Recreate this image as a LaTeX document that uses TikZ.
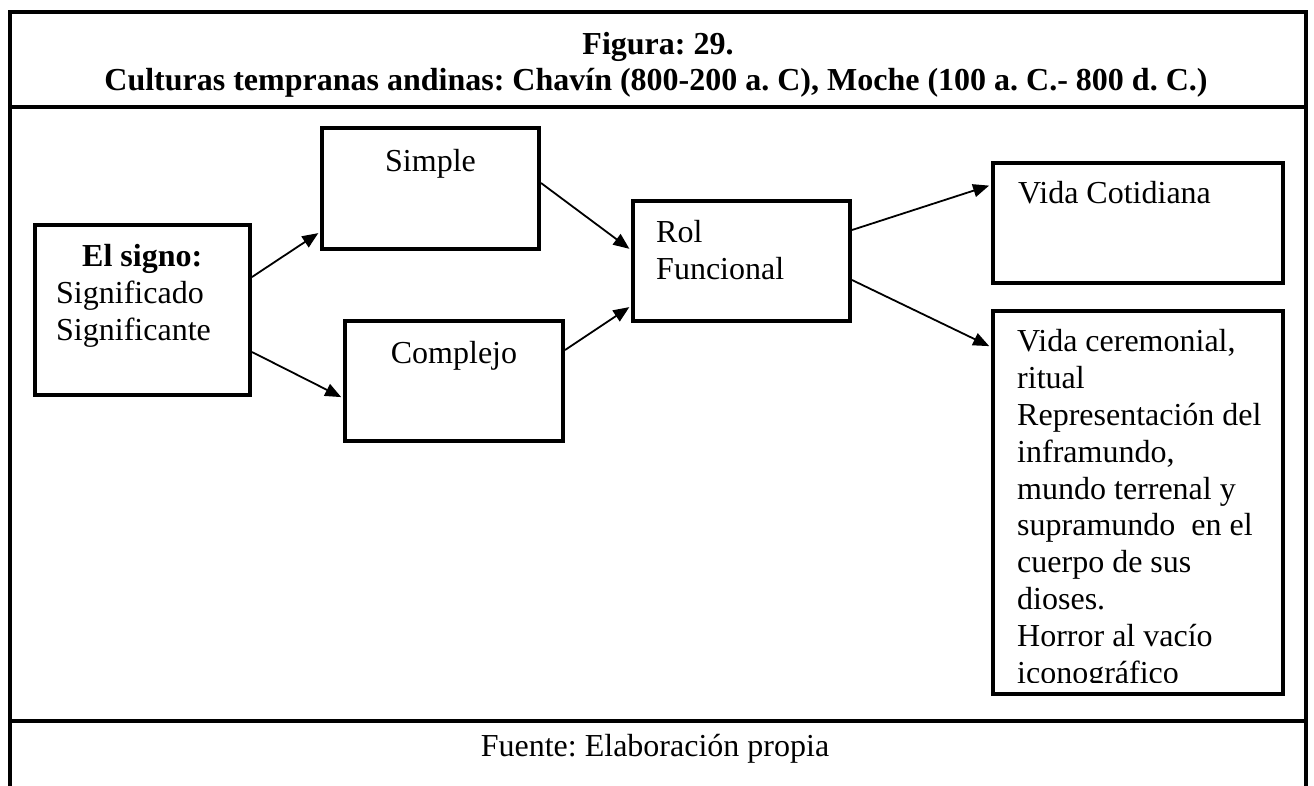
\documentclass[tikz,border=0pt]{standalone}
\usepackage{fontspec}
\setmainfont{Liberation Serif}
\usetikzlibrary{arrows.meta}
\frenchspacing
\begin{document}
\begin{tikzpicture}[x=1pt,y=-1pt,
  box/.style={draw,line width=4pt,inner sep=0pt},
  frameline/.style={line width=3.5pt,line cap=rect},
  conn/.style={line width=1.8pt,shorten >=2pt,-{Triangle[length=16pt,width=13pt]}},
  txt/.style={inner sep=0pt,font=\fontsize{32pt}{36.8pt}\selectfont},
]
\useasboundingbox (0,0) rectangle (1314,785);
\fill[white] (0,0) rectangle (1314,785);
% outer frame
\draw[frameline] (10,785) -- (10,12) -- (1306,12) -- (1306,785);
\draw[frameline] (10,107) -- (1306,107);
\draw[frameline] (10,721) -- (1306,721);
% title
\node[txt,anchor=base] (title1) at (658,54) {\textbf{Figura: 29.}};
\node[txt,anchor=base] (title2) at (656,90) {\textbf{Culturas tempranas andinas: Chavín (800-200 a. C), Moche (100 a. C.- 800 d. C.)}};
% footer
\node[txt,anchor=base] (foot) at (655,756) {Fuente: Elaboración propia};
% boxes
\node[box,minimum width=215pt,minimum height=170pt] (signo) at (142.5,310) {};
\node[box,minimum width=217pt,minimum height=121pt] (simple) at (430.5,188.5) {};
\node[box,minimum width=218pt,minimum height=120pt] (complejo) at (454,381) {};
\node[box,minimum width=217pt,minimum height=120pt] (rol) at (741.5,261) {};
\node[box,minimum width=290pt,minimum height=120pt] (cotid) at (1138,223) {};
\node[box,minimum width=290pt,minimum height=383pt] (cerem) at (1138,502.5) {};
% texts
\node[txt,anchor=base west] (s1) at (82,266) {\textbf{El signo:}};
\node[txt,anchor=base west] (s2) at (56,303) {Significado};
\node[txt,anchor=base west] (s3) at (56,340) {Significante};
\node[txt,anchor=base] (simpletxt) at (430.5,171) {Simple};
\node[txt,anchor=base] (comptxt) at (454,363) {Complejo};
\node[txt,anchor=base west] (r1) at (656,242) {Rol};
\node[txt,anchor=base west] (r2) at (656,279) {Funcional};
\node[txt,anchor=base west] (vc) at (1018,203) {Vida Cotidiana};
\begin{scope}
\clip (995,313) rectangle (1281,682);
\foreach \t [count=\i from 0] in {{Vida ceremonial,},ritual,Representación del,{inframundo,},mundo terrenal y,supramundo\ \ en el,cuerpo de sus,dioses.,Horror al vacío,iconográfico}{
  \node[txt,anchor=base west] (c\i) at (1017,351.8+36.8*\i) {\t};
}
\end{scope}
% connectors
\draw[conn] ([yshift=33pt]signo.east) -- ([yshift=-43.5pt]simple.west);
\draw[conn] ([yshift=-42pt]signo.east) -- ([yshift=-17pt]complejo.west);
\draw[conn] ([yshift=5.5pt]simple.east) -- ([yshift=11pt]rol.west);
\draw[conn] ([yshift=31pt]complejo.east) -- ([yshift=-45pt]rol.west);
\draw[conn] ([yshift=31pt]rol.east) -- ([yshift=38pt]cotid.west);
\draw[conn] ([yshift=-19pt]rol.east) -- ([yshift=155.5pt]cerem.west);
\end{tikzpicture}
\end{document}
